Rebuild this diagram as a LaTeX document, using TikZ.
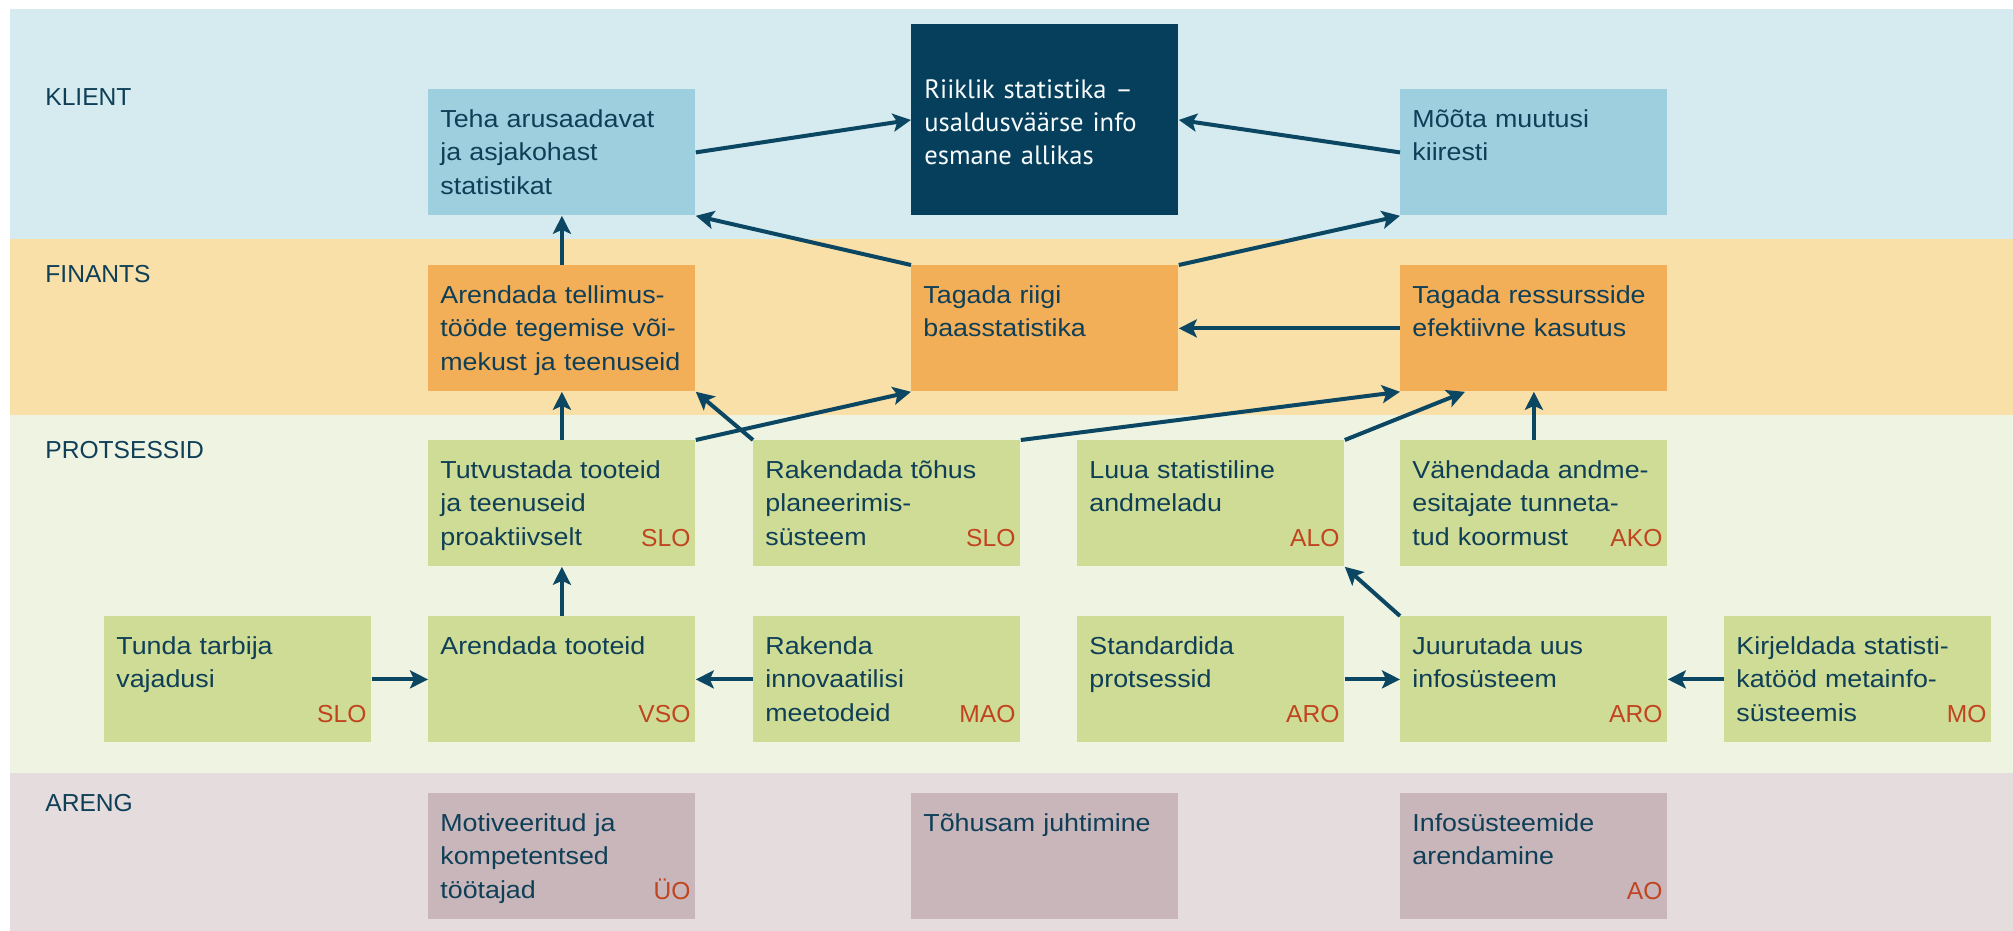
\documentclass[tikz,border=0pt]{standalone}
\usepackage{fontspec}
\setmainfont{Liberation Sans}
\newfontfamily\boxfont[FakeStretch=1.09]{Liberation Sans}
\newfontfamily\riikfont{PT Sans}
\usetikzlibrary{arrows.meta,calc}
\definecolor{bandK}{HTML}{D5EBEF}
\definecolor{bandF}{HTML}{F9DFA8}
\definecolor{bandP}{HTML}{EFF4E2}
\definecolor{bandA}{HTML}{E4DCDD}
\definecolor{boxK}{HTML}{9DCFDF}
\definecolor{boxR}{HTML}{053F5C}
\definecolor{boxF}{HTML}{F3AE58}
\definecolor{boxP}{HTML}{CFDC96}
\definecolor{boxA}{HTML}{C9B6BB}
\definecolor{txt}{HTML}{0F3F57}
\definecolor{arr}{HTML}{0B4762}
\definecolor{codec}{HTML}{C0441F}
\begin{document}
\begin{tikzpicture}[x=0.5pt,y=-0.5pt,
  box/.style={rectangle, anchor=north west, inner xsep=6pt, inner ysep=0pt,
    text width=121.5pt, text height=19pt, text depth=44pt, align=left,
    font=\boxfont\fontsize{12.3pt}{16.75pt}\selectfont, text=txt},
  kbox/.style={box, fill=boxK},
  fbox/.style={box, fill=boxF},
  pbox/.style={box, fill=boxP},
  abox/.style={box, fill=boxA},
  riikbox/.style={rectangle, anchor=north west, inner xsep=6.5pt, inner ysep=0pt,
    text width=120.5pt, text height=37pt, text depth=58.5pt, align=left,
    fill=boxR, text=white!92!boxK, font=\riikfont\fontsize{13.3pt}{16.5pt}\selectfont},
  code/.style={anchor=base east, inner sep=0pt, text=codec,
    font=\fontsize{12.3pt}{14pt}\selectfont},
  band/.style={anchor=base west, inner sep=0pt, text=txt,
    font=\fontsize{12.3pt}{14pt}\selectfont},
  link/.style={draw=arr, line width=2pt, -{Stealth[length=9pt,width=9pt,inset=2pt]}}
]
\useasboundingbox (0,0) rectangle (2013,931);
% bands
\fill[bandK] (10,9) rectangle (2013,239);
\fill[bandF] (10,239) rectangle (2013,415);
\fill[bandP] (10,415) rectangle (2013,773);
\fill[bandA] (10,773) rectangle (2013,931);
\node[band] (lk) at (45,106) {KLIENT};
\node[band] (lf) at (45,282) {FINANTS};
\node[band] (lp) at (45,458) {PROTSESSID};
\node[band] (la) at (45,811) {ARENG};
% KLIENT
\node[kbox] (teha) at (428,89) {Teha arusaadavat\\ja asjakohast\\statistikat};
\node[riikbox] (riik) at (911,24) {Riiklik statistika –\\usaldusväärse info\\esmane allikas};
\node[kbox] (moota) at (1400,89) {Mõõta muutusi\\kiiresti};
% FINANTS
\node[fbox] (arend) at (428,265) {Arendada tellimus-\\tööde tegemise või-\\mekust ja teenuseid};
\node[fbox] (tagriigi) at (911,265) {Tagada riigi\\baasstatistika};
\node[fbox] (tagress) at (1400,265) {Tagada ressursside\\efektiivne kasutus};
% PROTSESSID top
\node[pbox] (tutv) at (428,440) {Tutvustada tooteid\\ja teenuseid\\proaktiivselt};
\node[pbox] (rak) at (753,440) {Rakendada tõhus\\planeerimis-\\süsteem};
\node[pbox] (luua) at (1077,440) {Luua statistiline\\andmeladu};
\node[pbox] (vah) at (1400,440) {Vähendada andme-\\esitajate tunneta-\\tud koormust};
% PROTSESSID bottom
\node[pbox] (tunda) at (104,616) {Tunda tarbija\\vajadusi};
\node[pbox] (artoo) at (428,616) {Arendada tooteid};
\node[pbox] (rakinn) at (753,616) {Rakenda\\innovaatilisi\\meetodeid};
\node[pbox] (stand) at (1077,616) {Standardida\\protsessid};
\node[pbox] (juur) at (1400,616) {Juurutada uus\\infosüsteem};
\node[pbox] (kirj) at (1724,616) {Kirjeldada statisti-\\katööd metainfo-\\süsteemis};
% ARENG
\node[abox] (motiv) at (428,793) {Motiveeritud ja\\kompetentsed\\töötajad};
\node[abox] (tohus) at (911,793) {Tõhusam juhtimine};
\node[abox] (info) at (1400,793) {Infosüsteemide\\arendamine};
% codes
\node[code] (c1) at ($(tutv.north east)+(-5,106)$) {SLO};
\node[code] (c2) at ($(rak.north east)+(-5,106)$) {SLO};
\node[code] (c3) at ($(luua.north east)+(-5,106)$) {ALO};
\node[code] (c4) at ($(vah.north east)+(-5,106)$) {AKO};
\node[code] (c5) at ($(tunda.north east)+(-5,106)$) {SLO};
\node[code] (c6) at ($(artoo.north east)+(-5,106)$) {VSO};
\node[code] (c7) at ($(rakinn.north east)+(-5,106)$) {MAO};
\node[code] (c8) at ($(stand.north east)+(-5,106)$) {ARO};
\node[code] (c9) at ($(juur.north east)+(-5,106)$) {ARO};
\node[code] (c10) at ($(kirj.north east)+(-5,106)$) {MO};
\node[code] (c11) at ($(motiv.north east)+(-5,106)$) {ÜO};
\node[code] (c12) at ($(info.north east)+(-5,106)$) {AO};
% arrows
\draw[link] (teha.east) -- (riik.west);
\draw[link] (moota.west) -- (riik.east);
\draw[link] (arend.north) -- (teha.south);
\draw[link] (tagriigi.north west) -- (teha.south east);
\draw[link] (tagriigi.north east) -- (moota.south west);
\draw[link] (tagress.west) -- (tagriigi.east);
\draw[link] (tutv.north) -- (arend.south);
\draw[link] (rak.north west) -- (arend.south east);
\draw[link] (tutv.north east) -- (tagriigi.south west);
\draw[link] (rak.north east) -- (tagress.south west);
\draw[link] (luua.north east) -- ($(tagress.south west)+(65,0)$);
\draw[link] (vah.north) -- (tagress.south);
\draw[link] (artoo.north) -- (tutv.south);
\draw[link] (tunda.east) -- (artoo.west);
\draw[link] (rakinn.west) -- (artoo.east);
\draw[link] (stand.east) -- (juur.west);
\draw[link] (kirj.west) -- (juur.east);
\draw[link] (juur.north west) -- (luua.south east);
\end{tikzpicture}
\end{document}
